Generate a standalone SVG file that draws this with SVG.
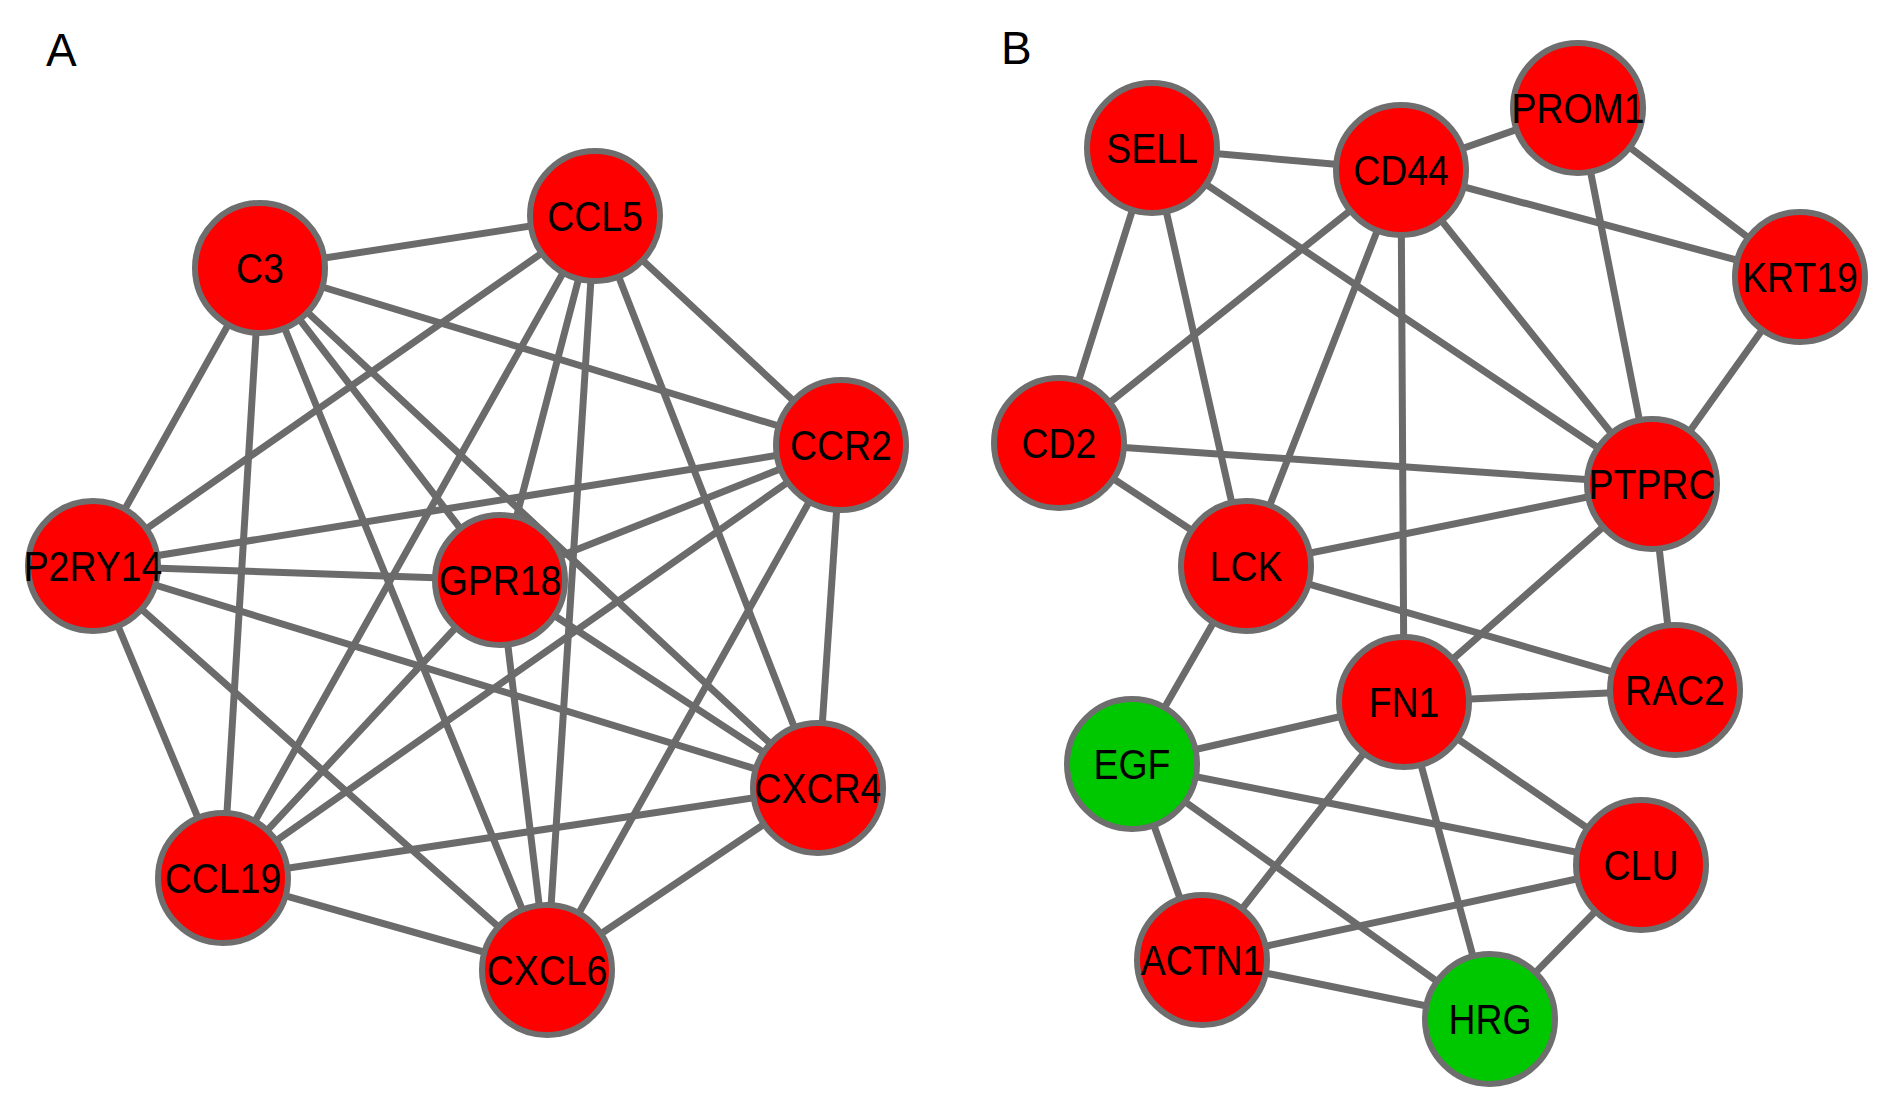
<svg xmlns="http://www.w3.org/2000/svg" width="1890" height="1115" viewBox="0 0 1890 1115">
<style>
.bg{fill:#ffffff}
.e line{stroke:#6b6b6b;stroke-width:7;stroke-linecap:round}
.n circle{stroke:#6e6e6e;stroke-width:6}
.up circle{fill:#ff0000}
.down circle{fill:#00c800}
.n text{font-family:"Liberation Sans",Arial,sans-serif;font-size:43px;fill:#000;text-anchor:middle}
.panel{font-family:"Liberation Sans",Arial,sans-serif;font-size:46px;fill:#000}
</style>
<rect class="bg" x="0" y="0" width="1890" height="1115"/>
<text class="panel" x="46" y="66">A</text>
<text class="panel" x="1001" y="64">B</text>
<g id="connectors-A" class="e">
<line x1="260" y1="268" x2="595" y2="216"/>
<line x1="260" y1="268" x2="841" y2="445"/>
<line x1="260" y1="268" x2="93" y2="566"/>
<line x1="260" y1="268" x2="500" y2="580"/>
<line x1="260" y1="268" x2="818" y2="788"/>
<line x1="260" y1="268" x2="223" y2="878"/>
<line x1="260" y1="268" x2="547" y2="970"/>
<line x1="595" y1="216" x2="841" y2="445"/>
<line x1="595" y1="216" x2="93" y2="566"/>
<line x1="595" y1="216" x2="500" y2="580"/>
<line x1="595" y1="216" x2="818" y2="788"/>
<line x1="595" y1="216" x2="223" y2="878"/>
<line x1="595" y1="216" x2="547" y2="970"/>
<line x1="841" y1="445" x2="93" y2="566"/>
<line x1="841" y1="445" x2="500" y2="580"/>
<line x1="841" y1="445" x2="818" y2="788"/>
<line x1="841" y1="445" x2="223" y2="878"/>
<line x1="841" y1="445" x2="547" y2="970"/>
<line x1="93" y1="566" x2="500" y2="580"/>
<line x1="93" y1="566" x2="818" y2="788"/>
<line x1="93" y1="566" x2="223" y2="878"/>
<line x1="93" y1="566" x2="547" y2="970"/>
<line x1="500" y1="580" x2="818" y2="788"/>
<line x1="500" y1="580" x2="223" y2="878"/>
<line x1="500" y1="580" x2="547" y2="970"/>
<line x1="818" y1="788" x2="223" y2="878"/>
<line x1="818" y1="788" x2="547" y2="970"/>
<line x1="223" y1="878" x2="547" y2="970"/>
</g>
<g id="connectors-B" class="e">
<line x1="1152" y1="148" x2="1401" y2="170"/>
<line x1="1152" y1="148" x2="1059" y2="443"/>
<line x1="1152" y1="148" x2="1246" y2="566"/>
<line x1="1152" y1="148" x2="1652" y2="484"/>
<line x1="1401" y1="170" x2="1578" y2="108"/>
<line x1="1401" y1="170" x2="1800" y2="277"/>
<line x1="1401" y1="170" x2="1059" y2="443"/>
<line x1="1401" y1="170" x2="1246" y2="566"/>
<line x1="1401" y1="170" x2="1404" y2="702"/>
<line x1="1401" y1="170" x2="1652" y2="484"/>
<line x1="1578" y1="108" x2="1800" y2="277"/>
<line x1="1578" y1="108" x2="1652" y2="484"/>
<line x1="1800" y1="277" x2="1652" y2="484"/>
<line x1="1059" y1="443" x2="1652" y2="484"/>
<line x1="1059" y1="443" x2="1246" y2="566"/>
<line x1="1246" y1="566" x2="1652" y2="484"/>
<line x1="1246" y1="566" x2="1675" y2="690"/>
<line x1="1246" y1="566" x2="1132" y2="764"/>
<line x1="1652" y1="484" x2="1404" y2="702"/>
<line x1="1652" y1="484" x2="1675" y2="690"/>
<line x1="1404" y1="702" x2="1675" y2="690"/>
<line x1="1404" y1="702" x2="1132" y2="764"/>
<line x1="1404" y1="702" x2="1641" y2="865"/>
<line x1="1404" y1="702" x2="1202" y2="960"/>
<line x1="1404" y1="702" x2="1490" y2="1019"/>
<line x1="1132" y1="764" x2="1641" y2="865"/>
<line x1="1132" y1="764" x2="1202" y2="960"/>
<line x1="1132" y1="764" x2="1490" y2="1019"/>
<line x1="1202" y1="960" x2="1641" y2="865"/>
<line x1="1202" y1="960" x2="1490" y2="1019"/>
<line x1="1641" y1="865" x2="1490" y2="1019"/>
</g>
<g id="n-C3" class="n up" transform="translate(260,268)"><circle r="65"/><text y="15" transform="scale(0.87,1)">C3</text></g>
<g id="n-CCL5" class="n up" transform="translate(595,216)"><circle r="65"/><text y="15" transform="scale(0.87,1)">CCL5</text></g>
<g id="n-CCR2" class="n up" transform="translate(841,445)"><circle r="65"/><text y="15" transform="scale(0.87,1)">CCR2</text></g>
<g id="n-P2RY14" class="n up" transform="translate(93,566)"><circle r="65"/><text y="15" transform="scale(0.87,1)">P2RY14</text></g>
<g id="n-GPR18" class="n up" transform="translate(500,580)"><circle r="65"/><text y="15" transform="scale(0.87,1)">GPR18</text></g>
<g id="n-CXCR4" class="n up" transform="translate(818,788)"><circle r="65"/><text y="15" transform="scale(0.87,1)">CXCR4</text></g>
<g id="n-CCL19" class="n up" transform="translate(223,878)"><circle r="65"/><text y="15" transform="scale(0.87,1)">CCL19</text></g>
<g id="n-CXCL6" class="n up" transform="translate(547,970)"><circle r="65"/><text y="15" transform="scale(0.87,1)">CXCL6</text></g>
<g id="n-SELL" class="n up" transform="translate(1152,148)"><circle r="65"/><text y="15" transform="scale(0.87,1)">SELL</text></g>
<g id="n-CD44" class="n up" transform="translate(1401,170)"><circle r="65"/><text y="15" transform="scale(0.87,1)">CD44</text></g>
<g id="n-PROM1" class="n up" transform="translate(1578,108)"><circle r="65"/><text y="15" transform="scale(0.87,1)">PROM1</text></g>
<g id="n-KRT19" class="n up" transform="translate(1800,277)"><circle r="65"/><text y="15" transform="scale(0.87,1)">KRT19</text></g>
<g id="n-CD2" class="n up" transform="translate(1059,443)"><circle r="65"/><text y="15" transform="scale(0.87,1)">CD2</text></g>
<g id="n-PTPRC" class="n up" transform="translate(1652,484)"><circle r="65"/><text y="15" transform="scale(0.87,1)">PTPRC</text></g>
<g id="n-LCK" class="n up" transform="translate(1246,566)"><circle r="65"/><text y="15" transform="scale(0.87,1)">LCK</text></g>
<g id="n-RAC2" class="n up" transform="translate(1675,690)"><circle r="65"/><text y="15" transform="scale(0.87,1)">RAC2</text></g>
<g id="n-FN1" class="n up" transform="translate(1404,702)"><circle r="65"/><text y="15" transform="scale(0.87,1)">FN1</text></g>
<g id="n-EGF" class="n down" transform="translate(1132,764)"><circle r="65"/><text y="15" transform="scale(0.87,1)">EGF</text></g>
<g id="n-CLU" class="n up" transform="translate(1641,865)"><circle r="65"/><text y="15" transform="scale(0.87,1)">CLU</text></g>
<g id="n-ACTN1" class="n up" transform="translate(1202,960)"><circle r="65"/><text y="15" transform="scale(0.87,1)">ACTN1</text></g>
<g id="n-HRG" class="n down" transform="translate(1490,1019)"><circle r="65"/><text y="15" transform="scale(0.87,1)">HRG</text></g>
</svg>
